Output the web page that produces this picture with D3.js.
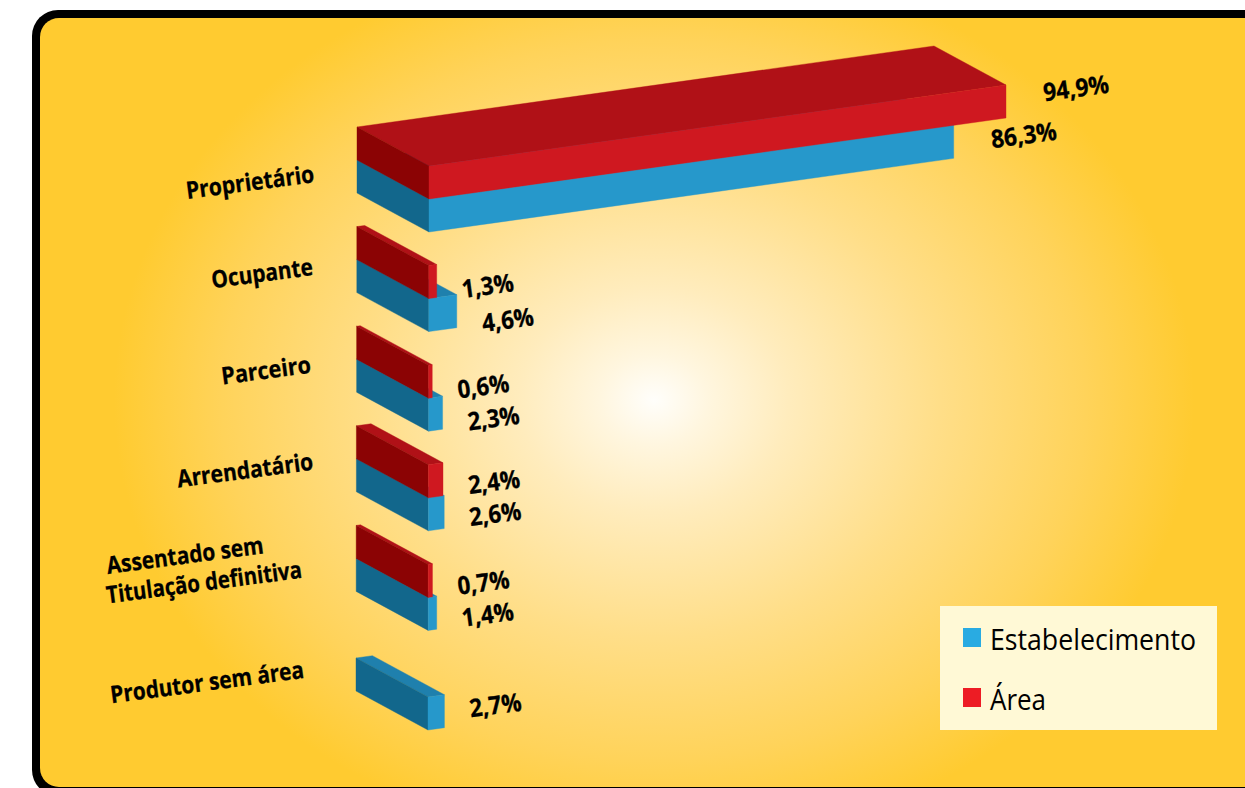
<!DOCTYPE html>
<html><head><meta charset="utf-8">
<style>html,body{margin:0;padding:0;background:#fff;overflow:hidden}svg{display:block}text{font-family:"Open Sans",sans-serif;fill:#000}</style>
<script src="https://cdn.jsdelivr.net/npm/d3@7"></script></head><body>
<script>
const categories = ["Proprietário","Ocupante","Parceiro","Arrendatário","Assentado sem Titulação definitiva","Produtor sem área"];
const estabelecimento = [86.3,4.6,2.3,2.6,1.4,2.7];
const area = [94.9,1.3,0.6,2.4,0.7,null];
const legendItems = ["Estabelecimento","Área"];

const W=1245,H=788;
const svg=d3.select("body").append("svg").attr("width",W).attr("height",H);
const defs=svg.append("defs");
const grad=defs.append("radialGradient").attr("id","bg").attr("gradientUnits","userSpaceOnUse")
  .attr("cx",0).attr("cy",0).attr("r",1).attr("gradientTransform","translate(654,400) scale(540,450)");
[[0,"#fffefb"],[0.1,"#fff6df"],[0.25,"#ffecbd"],[0.53,"#ffde88"],[0.8,"#ffd35a"],[1,"#ffcb30"]]
  .forEach(s=>grad.append("stop").attr("offset",s[0]).attr("stop-color",s[1]));

svg.append("rect").attr("x",32).attr("y",10).attr("width",1300).attr("height",786).attr("rx",26).attr("fill","#000");
svg.append("rect").attr("x",40).attr("y",18).attr("width",1290).attr("height",769).attr("rx",19).attr("fill","url(#bg)");

const len=d3.scaleLinear().domain([0,94.9]).range([0,577]);
const rowY=d3.scalePoint().domain(categories).range([166,664]);
const rowX=d3.scalePoint().domain(categories).range([429,428]);
const slope=-0.1404, depthX=-72, depthY=-39, barH=33;
const palette={
  blue:{front:"#2698cb",left:"#12678c",top:"#1f80ad"},
  red:{front:"#cf1820",left:"#8b0304",top:"#b01117"}
};
const pts=a=>a.map(p=>p.join(",")).join(" ");
function faces(x,y,l){
  const xe=x+l, ye=y+l*slope;
  return {
    top:[[x,y],[xe,ye],[xe+depthX,ye+depthY],[x+depthX,y+depthY]],
    left:[[x,y],[x+depthX,y+depthY],[x+depthX,y+depthY+barH],[x,y+barH]],
    front:[[x,y],[xe,ye],[xe,ye+barH],[x,y+barH]]
  };
}
const rows=categories.map((c,i)=>({c,i,blue:estabelecimento[i],red:area[i]}));
const bars=svg.append("g");
function drawBox(g,x,y,v,pal){
  const f=faces(x,y,len(v));
  ["top","left","front"].forEach(k=>{
    g.append("polygon").attr("points",pts(f[k])).attr("fill",pal[k])
     .attr("stroke",pal[k]).attr("stroke-width",0.4);
  });
}
bars.selectAll("g").data(rows).join("g").each(function(d){
  const g=d3.select(this),x=rowX(d.c),y=rowY(d.c);
  drawBox(g,x,y+barH,d.blue,palette.blue);
  if(d.red!=null) drawBox(g,x,y,d.red,palette.red);
});

/* value labels */
const fmt=v=>d3.format(".1f")(v).replace(".",",")+"%";
const redLabelDy=[-78,20,21,17,18,0], blueLabelDy=[-31,54,53,49,50,41];
const labelGap=51, firstExtra=19, angle=-7.5;
const labels=svg.append("g");
function valueLabel(v,i,dy){
  const x=rowX(categories[i])+len(v)+labelGap+(i===0?firstExtra:0);
  const y=rowY(categories[i])+dy;
  labels.append("text").attr("transform",`translate(${x},${y}) rotate(${angle})`)
    .attr("text-anchor","middle").attr("dy",".36em")
    .attr("font-size",25).attr("font-weight",700)
    .attr("stroke","#000").attr("stroke-width",0.3)
    .attr("textLength",i===0?66:52).attr("lengthAdjust","spacingAndGlyphs").text(fmt(v));
}
rows.forEach(d=>{
  valueLabel(d.blue,d.i,blueLabelDy[d.i]);
  if(d.red!=null) valueLabel(d.red,d.i,redLabelDy[d.i]);
});

/* category labels */
const catLines=[
 {t:"Proprietário",x:250,y:182,w:129},
 {t:"Ocupante",x:262,y:273,w:102},
 {t:"Parceiro",x:266,y:370,w:90},
 {t:"Arrendatário",x:245,y:470,w:137},
 {t:"Assentado sem",x:185,y:555,w:158},
 {t:"Titulação definitiva",x:204,y:582,w:197},
 {t:"Produtor sem área",x:207,y:682,w:195}
];
svg.append("g").selectAll("text").data(catLines).join("text")
  .attr("transform",d=>`translate(${d.x},${d.y}) rotate(${angle})`)
  .attr("text-anchor","middle").attr("dy",".36em").attr("font-size",24).attr("font-weight",700)
  .attr("stroke","#000").attr("stroke-width",0.3)
  .attr("textLength",d=>d.w).attr("lengthAdjust","spacingAndGlyphs").text(d=>d.t);

/* legend */
const lg=svg.append("g");
lg.append("rect").attr("x",940).attr("y",606).attr("width",277).attr("height",124).attr("fill","#fff9d6");
const legendY=d3.scalePoint().domain(legendItems).range([628,688]);
const legendColor=d3.scaleOrdinal().domain(legendItems).range(["#29abe2","#ed1c24"]);
const legendW=[206,56];
lg.selectAll("rect.s").data(legendItems).join("rect").attr("class","s")
  .attr("x",963).attr("y",d=>legendY(d)).attr("width",18).attr("height",19).attr("fill",d=>legendColor(d));
lg.selectAll("text").data(legendItems).join("text")
  .attr("x",990).attr("y",d=>legendY(d)+22).attr("font-size",30)
  .attr("textLength",(d,i)=>legendW[i]).attr("lengthAdjust","spacingAndGlyphs").text(d=>d);
</script></body></html>
